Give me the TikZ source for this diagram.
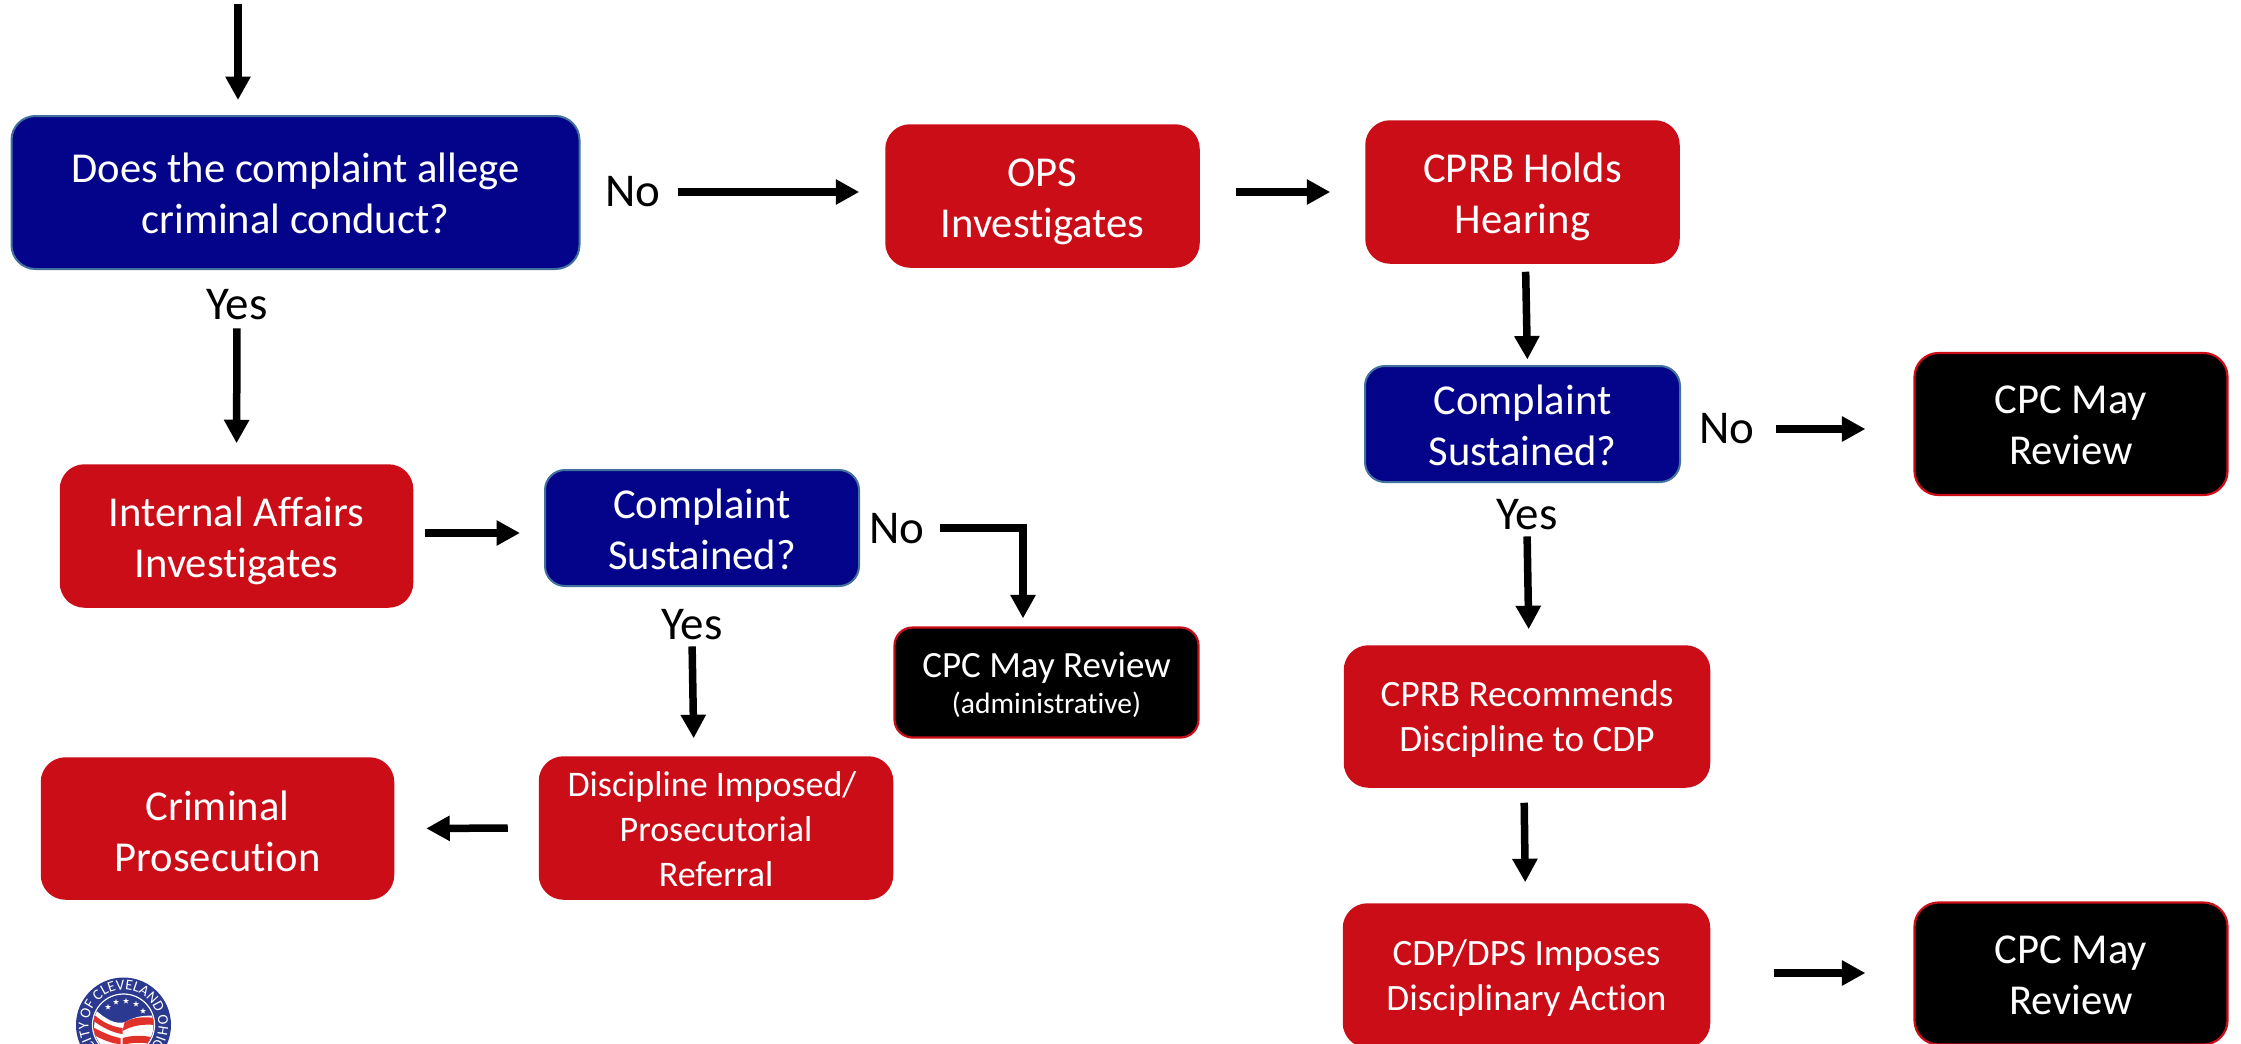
\documentclass[tikz,border=0pt]{standalone}
\usepackage{fontspec}
\setmainfont{Carlito}[Ligatures=CommonOff]
\usetikzlibrary{arrows.meta,decorations.text,shapes.geometric}
\definecolor{cred}{HTML}{CB0D18}
\definecolor{cnavy}{HTML}{04048A}
\definecolor{cedge}{HTML}{41719C}
\definecolor{sealblue}{HTML}{2B3990}
\definecolor{sealred}{HTML}{E0312B}
\newcommand\tdn[1]{\rule{0pt}{#1pt}}
\tikzset{
 box/.style={rounded corners=24pt,inner sep=0pt,align=center,text=white,line width=1.5pt},
 redbox/.style={box,fill=cred,draw=cred},
 navybox/.style={box,fill=cnavy,draw=cedge,line width=2pt},
 blackbox/.style={box,fill=black,draw=cred,line width=2.2pt},
 big/.style={font=\fontsize{42.6}{51}\selectfont},
 mid/.style={font=\fontsize{37.2}{45}\selectfont},
 small/.style={font=\fontsize{36}{45}\selectfont},
 lab/.style={inner sep=0pt,text=black,font=\fontsize{47}{51}\selectfont},
 arr/.style={line width=7.5pt,draw=black,-{Triangle[width=24pt,length=23.5pt]}},
 sealstar/.style={star,star points=5,star point ratio=2.4,fill=white,inner sep=0pt,minimum size=6pt}
}
\begin{document}
\begin{tikzpicture}[x=1pt,y=-1pt]
\useasboundingbox (0,0) rectangle (2241,1044);
\clip (0,0) rectangle (2241,1044);
% boxes
\node[navybox,big,minimum width=568pt,minimum height=153pt] (does) at (295.5,192.5) {\tdn{31}Does the complaint allege\\criminal conduct?};
\node[redbox,big,minimum width=313pt,minimum height=142pt] (ops) at (1042.5,196) {\tdn{40}OPS\\Investigates};
\node[redbox,big,minimum width=313pt,minimum height=142pt] (holds) at (1522.5,192) {\tdn{40}CPRB Holds\\Hearing};
\node[navybox,big,minimum width=315pt,minimum height=116pt,rounded corners=20pt] (sust2) at (1522.5,424) {\tdn{32}Complaint\\Sustained?};
\node[blackbox,big,minimum width=313pt,minimum height=142pt] (cpc1) at (2071,424) {\tdn{31}CPC May\\Review};
\node[redbox,mid,minimum width=365pt,minimum height=141pt] (rec) at (1527,716.5) {\tdn{30}CPRB Recommends\\Discipline to CDP};
\node[redbox,mid,minimum width=366pt,minimum height=143pt] (cdp) at (1526.5,975.5) {\tdn{30}CDP/DPS Imposes\\Disciplinary Action};
\node[blackbox,big,minimum width=313pt,minimum height=142pt] (cpc2) at (2071,973.5) {\tdn{31}CPC May\\Review};
\node[redbox,big,minimum width=352pt,minimum height=142pt] (ia) at (236.5,536) {\tdn{40}Internal Affairs\\Investigates};
\node[navybox,big,minimum width=314pt,minimum height=116pt,rounded corners=20pt] (sust1) at (702,528) {\tdn{33}Complaint\\Sustained?};
\node[blackbox,minimum width=304pt,minimum height=110pt,rounded corners=18pt] (admin) at (1046.5,682.5) {\rule{0pt}{30pt}\fontsize{37}{42}\selectfont CPC May Review\\[7pt]\fontsize{29.5}{32}\selectfont (administrative)};
\node[redbox,small,minimum width=353pt,minimum height=142pt] (disc) at (716,828) {\tdn{27}Discipline Imposed/\hspace*{8pt}\\Prosecutorial\\Referral};
\node[redbox,big,minimum width=352pt,minimum height=141pt] (crim) at (217.5,828.5) {\tdn{35}Criminal\\Prosecution};
% labels
\node[lab] (no1) at (633,192) {No};
\node[lab] (yes1) at (237,305) {Yes};
\node[lab] (no2) at (897,529) {No};
\node[lab] (yes2) at (692,625) {Yes};
\node[lab] (no3) at (1727,429) {No};
\node[lab] (yes3) at (1527,515) {Yes};
\coordinate (top) at (238,4);
% connectors
\draw[arr] (top) -- ([xshift=-57.5pt,yshift=15pt]does.north);
\draw[arr,shorten <=8pt,shorten >=21pt] (yes1.south) -- (ia.north);
\draw[arr,shorten <=17pt,shorten >=26pt] (no1.east) -- ([yshift=4pt]ops.west);
\draw[arr,shorten <=36pt,shorten >=35pt] ([yshift=4pt]ops.east) -- (holds.west);
\draw[arr,shorten <=8pt,shorten >=5.5pt] ([xshift=3pt]holds.south) -- ([xshift=5pt]sust2.north);
\draw[arr,shorten <=21pt,shorten >=48pt] (no3.east) -- ([yshift=-5pt]cpc1.west);
\draw[arr,shorten <=6pt,shorten >=16pt] (yes3.south) -- ([xshift=6.5pt]sust2.south |- rec.north);
\draw[arr,shorten <=15pt,shorten >=21pt] ([xshift=-3pt]rec.south) -- ([xshift=-1pt]cdp.north);
\draw[arr,shorten <=64pt,shorten >=48pt] ([yshift=2.5pt]cdp.east) -- ([yshift=.5pt]cpc2.west);
\draw[arr,shorten <=12pt,shorten >=24pt] ([yshift=3pt]ia.east) -- ([yshift=-5pt]sust1.west);
\draw[arr] ([xshift=15pt,yshift=1pt]no2.east) -| ([xshift=-23.5pt,yshift=8pt]admin.north);
\draw[arr,shorten <=6pt,shorten >=18pt] (yes2.south) -- ([xshift=-22pt]disc.north);
\draw[arr,shorten <=31pt,shorten >=32pt] (disc.west) -- (crim.east);
% seal
\begin{scope}[shift={(123.5,1025)},x=1pt,y=1pt]
 \fill[sealblue] (0,0) circle (47.5);
 \draw[white,line width=1.2pt] (0,0) circle (31);
 \begin{scope}
  \clip (0,0) circle (30);
  \fill[sealblue] (-32,-32) rectangle (32,32);
  \fill[white] (-28,15) .. controls (-18,6) and (-8,0) .. (2,3) .. controls (12,9) and (22,10) .. (32,9) -- (32,-32) -- (-32,-32) -- cycle;
  \fill[sealred] (1,2.5) .. controls (10,8) and (20,8.5) .. (32,7) -- (32,0) .. controls (20,1) and (10,0) .. (-1,-6) -- cycle;
  \fill[sealred] (-29,10) .. controls (-20,2) and (-10,-2) .. (-1,-3) -- (-1,-9) .. controls (-10,-8) and (-20,-3) .. (-30,4) -- cycle;
  \fill[sealred] (-31,-2) .. controls (-20,-8) and (-10,-12) .. (-3,-13) -- (-3,-19) .. controls (-12,-19) and (-22,-14) .. (-32,-9) -- cycle;
  \fill[sealred] (-1,-13) .. controls (10,-10) and (20,-10) .. (32,-13) -- (32,-20) .. controls (20,-17) and (10,-17) .. (-1,-20) -- cycle;
 \end{scope}
 \foreach \sx/\sy in {-15.5/18,-7.5/23,2.5/24,12.5/21,19.5/14}
  \node[sealstar] (star\sx) at (\sx,\sy) {};
 \path[postaction={decorate,decoration={text along path,text align=center,raise=0pt,
   text={|\fontsize{15}{15}\selectfont\color{white}|CITY OF CLEVELAND OHIO}}}]
   (245:35) arc[start angle=245,end angle=-65,radius=35];
\end{scope}
\end{tikzpicture}
\end{document}
